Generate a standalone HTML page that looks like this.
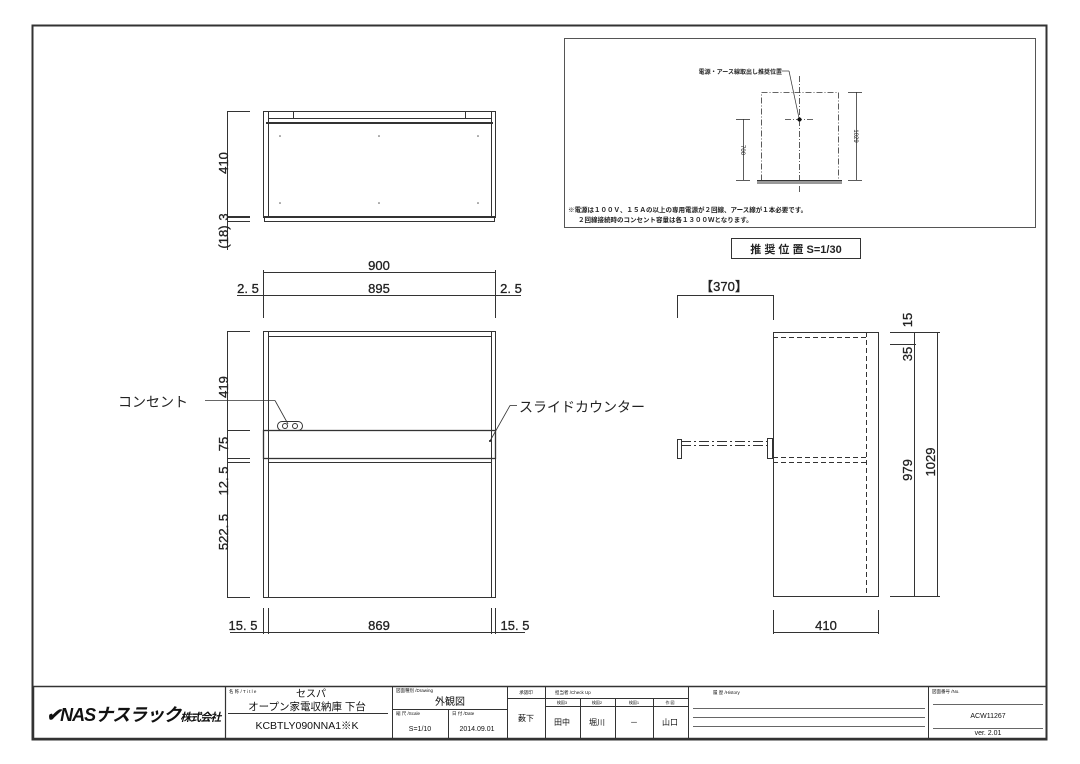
<!DOCTYPE html>
<html><head><meta charset="utf-8"><style>
html,body{margin:0;padding:0;background:#fff;}
svg{display:block;font-family:"Liberation Sans","Noto Sans CJK JP",sans-serif;}
</style></head><body>
<svg width="1080" height="764" viewBox="0 0 1080 764" xmlns="http://www.w3.org/2000/svg">
<rect x="0" y="0" width="1080" height="764" fill="#fff"/>
<rect x="32.5" y="25.5" width="1014" height="714" fill="none" stroke="#333" stroke-width="2"/>

<g stroke="#333" stroke-width="1" fill="none">
<rect x="263.5" y="111.5" width="232" height="106"/>
<line x1="268.5" y1="111" x2="268.5" y2="217"/>
<line x1="491.5" y1="111" x2="491.5" y2="217"/>
<rect x="268.5" y="111.5" width="25" height="7"/>
<rect x="465.5" y="111.5" width="26" height="7"/>
<line x1="268" y1="118.5" x2="491" y2="118.5"/>
<line x1="266" y1="123" x2="493" y2="123" stroke-width="2"/>
<line x1="263" y1="217" x2="495" y2="217" stroke-width="2"/>
<rect x="264.5" y="217.5" width="230" height="4"/>
<line x1="227.5" y1="111" x2="227.5" y2="250"/>
<line x1="227" y1="111.5" x2="250" y2="111.5"/>
<line x1="227" y1="217" x2="250" y2="217" stroke-width="2"/>
<line x1="227" y1="221.5" x2="250" y2="221.5"/>
<line x1="263" y1="272.5" x2="495" y2="272.5"/>
<line x1="237" y1="295.5" x2="521" y2="295.5"/>
<line x1="263.5" y1="270" x2="263.5" y2="318"/>
<line x1="495.5" y1="270" x2="495.5" y2="318"/>

<rect x="263.5" y="331.5" width="232" height="266"/>
<line x1="268.5" y1="331" x2="268.5" y2="597"/>
<line x1="491.5" y1="331" x2="491.5" y2="597"/>
<line x1="268" y1="336.5" x2="491" y2="336.5"/>
<rect x="263.5" y="430.5" width="232" height="28" stroke-width="1.3"/>
<line x1="268" y1="462.5" x2="491" y2="462.5"/>
<rect x="277.5" y="421.5" width="25" height="9" rx="4.5"/>
<circle cx="285" cy="426" r="2.5"/><circle cx="295" cy="426" r="2.5"/>
<line x1="205" y1="400.5" x2="275" y2="400.5" stroke-width="0.8"/>
<line x1="275" y1="400.5" x2="288" y2="424" stroke-width="0.8"/>
<line x1="517" y1="405.5" x2="510" y2="405.5" stroke-width="0.8"/>
<line x1="510" y1="405.5" x2="490" y2="441" stroke-width="0.8"/>
<line x1="227.5" y1="331" x2="227.5" y2="597"/>
<line x1="227" y1="331.5" x2="250" y2="331.5"/>
<line x1="227" y1="430.5" x2="250" y2="430.5"/>
<line x1="227" y1="458.5" x2="250" y2="458.5"/>
<line x1="227" y1="462.5" x2="250" y2="462.5"/>
<line x1="227" y1="597.5" x2="250" y2="597.5"/>
<line x1="230" y1="632.5" x2="525" y2="632.5"/>
<line x1="263.5" y1="608" x2="263.5" y2="634"/>
<line x1="268.5" y1="608" x2="268.5" y2="634"/>
<line x1="491.5" y1="608" x2="491.5" y2="634"/>
<line x1="495.5" y1="608" x2="495.5" y2="634"/>

<rect x="773.5" y="332.5" width="105" height="264"/>
<line x1="866.5" y1="332" x2="866.5" y2="596" stroke-dasharray="5,3"/>
<line x1="773" y1="337.5" x2="866" y2="337.5" stroke-dasharray="5,3"/>
<line x1="773" y1="457.5" x2="866" y2="457.5" stroke-dasharray="5,3"/>
<line x1="773" y1="462.5" x2="866" y2="462.5" stroke-dasharray="5,3"/>
<line x1="681" y1="441.5" x2="767" y2="441.5" stroke-dasharray="10,3,2,3"/>
<line x1="681" y1="445.5" x2="767" y2="445.5" stroke-dasharray="10,3,2,3"/>
<rect x="677.5" y="439.5" width="4" height="19"/>
<rect x="767.5" y="438.5" width="5" height="20"/>
<line x1="677" y1="295.5" x2="773" y2="295.5"/>
<line x1="677.5" y1="295" x2="677.5" y2="318"/>
<line x1="773.5" y1="295" x2="773.5" y2="320"/>
<line x1="914.5" y1="332" x2="914.5" y2="596"/>
<line x1="937.5" y1="332" x2="937.5" y2="596"/>
<line x1="890" y1="332.5" x2="940" y2="332.5"/>
<line x1="890" y1="344.5" x2="916" y2="344.5"/>
<line x1="890" y1="596.5" x2="940" y2="596.5"/>
<line x1="773" y1="632.5" x2="878" y2="632.5"/>
<line x1="773.5" y1="610" x2="773.5" y2="634"/>
<line x1="878.5" y1="610" x2="878.5" y2="634"/>

<rect x="564.5" y="38.5" width="471" height="189" stroke="#555"/>
<rect x="761.5" y="92.5" width="77" height="88" stroke-dasharray="6,2,1,2" stroke-width="0.8"/>
<line x1="799.5" y1="76" x2="799.5" y2="192" stroke-dasharray="6,2,1,2" stroke-width="0.8"/>
<line x1="785" y1="119.5" x2="813" y2="119.5" stroke-dasharray="6,2,1,2" stroke-width="0.8"/>
<line x1="743.5" y1="119" x2="743.5" y2="180" stroke-width="0.8"/>
<line x1="736" y1="119.5" x2="750" y2="119.5" stroke-width="0.8"/>
<line x1="736" y1="180.5" x2="750" y2="180.5" stroke-width="0.8"/>
<line x1="856.5" y1="92" x2="856.5" y2="180" stroke-width="0.8"/>
<line x1="848" y1="92.5" x2="862" y2="92.5" stroke-width="0.8"/>
<line x1="848" y1="180.5" x2="862" y2="180.5" stroke-width="0.8"/>
<line x1="757" y1="180.5" x2="842" y2="180.5"/>
<rect x="757" y="181" width="85" height="3" fill="#999" stroke="none"/>
<line x1="782" y1="71" x2="789" y2="71" stroke-width="0.7"/>
<line x1="789" y1="71" x2="799" y2="118" stroke-width="0.7"/>
<rect x="731.5" y="238.5" width="129" height="20"/>

<rect x="33.5" y="686.5" width="1013" height="52" stroke-width="1.5"/>
<line x1="225.5" y1="686" x2="225.5" y2="738" stroke-width="1.2"/>
<line x1="392.5" y1="686" x2="392.5" y2="738"/>
<line x1="507.5" y1="686" x2="507.5" y2="738"/>
<line x1="545.5" y1="686" x2="545.5" y2="738"/>
<line x1="688.5" y1="686" x2="688.5" y2="738"/>
<line x1="928.5" y1="686" x2="928.5" y2="738"/>
<line x1="228" y1="713.5" x2="388" y2="713.5"/>
<line x1="392" y1="709.5" x2="507" y2="709.5"/>
<line x1="448.5" y1="709" x2="448.5" y2="738"/>
<line x1="507" y1="698.5" x2="545" y2="698.5"/>
<line x1="545" y1="698.5" x2="688" y2="698.5"/>
<line x1="545" y1="706.5" x2="688" y2="706.5"/>
<line x1="580.5" y1="698" x2="580.5" y2="738"/>
<line x1="615.5" y1="698" x2="615.5" y2="738"/>
<line x1="653.5" y1="698" x2="653.5" y2="738"/>
<line x1="693" y1="708.5" x2="925" y2="708.5" stroke-width="0.7"/>
<line x1="693" y1="717.5" x2="925" y2="717.5" stroke-width="0.7"/>
<line x1="693" y1="726.5" x2="925" y2="726.5" stroke-width="0.7"/>
<line x1="933" y1="704.5" x2="1043" y2="704.5" stroke-width="0.7"/>
<line x1="933" y1="728.5" x2="1043" y2="728.5" stroke-width="0.7"/>
</g>
<circle cx="799.5" cy="119.5" r="2" fill="#111"/>
<circle cx="490" cy="441" r="1" fill="#111"/>
<g fill="#555">
<circle cx="280" cy="136" r="0.8"/><circle cx="379" cy="136" r="0.8"/><circle cx="478" cy="136" r="0.8"/>
<circle cx="280" cy="203" r="0.8"/><circle cx="379" cy="203" r="0.8"/><circle cx="478" cy="203" r="0.8"/>
</g>

<g fill="#222" font-size="13" text-anchor="middle" stroke="#222" stroke-width="0.3">
<text transform="translate(228,163) rotate(-90)">410</text>
<text transform="translate(228,217) rotate(-90)">3</text>
<text transform="translate(228,237) rotate(-90)">(18)</text>
<text x="379" y="270">900</text>
<text x="248" y="293">2. 5</text>
<text x="379" y="293">895</text>
<text x="511" y="293">2. 5</text>
<text transform="translate(228,387) rotate(-90)">419</text>
<text transform="translate(228,444) rotate(-90)">75</text>
<text transform="translate(228,481) rotate(-90)">12. 5</text>
<text transform="translate(228,532) rotate(-90)">522. 5</text>
<text x="243" y="630">15. 5</text>
<text x="379" y="630">869</text>
<text x="515" y="630">15. 5</text>
<text x="724" y="291">【370】</text>
<text transform="translate(912,320) rotate(-90)">15</text>
<text transform="translate(912,354) rotate(-90)">35</text>
<text transform="translate(912,470) rotate(-90)">979</text>
<text transform="translate(935,462) rotate(-90)">1029</text>
<text x="826" y="630">410</text>
</g>
<text x="118" y="407" font-size="14" fill="#222">コンセント</text>
<text x="519" y="412" font-size="14" fill="#222">スライドカウンター</text>

<g fill="#222">
<text x="782" y="74" font-size="6" text-anchor="end" font-weight="bold">電源・アース線取出し推奨位置</text>
<text transform="translate(741,150) rotate(90)" font-size="6" text-anchor="middle">700</text>
<text transform="translate(854,136) rotate(90)" font-size="6" text-anchor="middle">1029</text>
<text x="568" y="212" font-size="6.5" font-weight="bold">※電源は１００Ｖ、１５Ａの以上の専用電源が２回線、アース線が１本必要です。</text>
<text x="578" y="222" font-size="6.5" font-weight="bold">２回線接続時のコンセント容量は各１３００Ｗとなります。</text>
<text x="796" y="253" font-size="11" font-weight="bold" text-anchor="middle">推 奨 位 置  S=1/30</text>
</g>

<g fill="#111">
<text x="46" y="721" font-size="18" font-weight="bold" font-style="italic" letter-spacing="-1">✔NASナスラック<tspan font-size="11">株式会社</tspan></text>
<text x="229" y="693" font-size="4.5">名 称 / T i t l e</text>
<text x="296" y="697" font-size="10">セスパ</text>
<text x="307" y="710" font-size="10.5" text-anchor="middle">オープン家電収納庫 下台</text>
<text x="307" y="729" font-size="10.5" text-anchor="middle">KCBTLY090NNA1※K</text>
<text x="396" y="692" font-size="4.5">図面種別 /Drawing</text>
<text x="450" y="705" font-size="10" text-anchor="middle">外観図</text>
<text x="396" y="715" font-size="4.5">縮 尺 /Scale</text>
<text x="420" y="731" font-size="7" text-anchor="middle">S=1/10</text>
<text x="452" y="715" font-size="4.5">日 付 /Date</text>
<text x="477" y="731" font-size="7" text-anchor="middle">2014.09.01</text>
<text x="526" y="694" font-size="4.5" text-anchor="middle">承認印</text>
<text x="526" y="721" font-size="8" text-anchor="middle">薮下</text>
<text x="555" y="694" font-size="4.5">担当者 /Check Up</text>
<text x="562" y="704" font-size="4" text-anchor="middle">検図3</text>
<text x="597" y="704" font-size="4" text-anchor="middle">検図2</text>
<text x="634" y="704" font-size="4" text-anchor="middle">検図1</text>
<text x="670" y="704" font-size="4" text-anchor="middle">作 図</text>
<text x="562" y="725" font-size="8" text-anchor="middle">田中</text>
<text x="597" y="725" font-size="8" text-anchor="middle">堀川</text>
<text x="634" y="725" font-size="8" text-anchor="middle">－</text>
<text x="670" y="725" font-size="8" text-anchor="middle">山口</text>
<text x="713" y="694" font-size="4.5">履 歴 /History</text>
<text x="932" y="693" font-size="4.5">図面番号 /No.</text>
<text x="988" y="718" font-size="7" text-anchor="middle">ACW11267</text>
<text x="988" y="735" font-size="7" text-anchor="middle">ver. 2.01</text>
</g>
</svg>
</body></html>
